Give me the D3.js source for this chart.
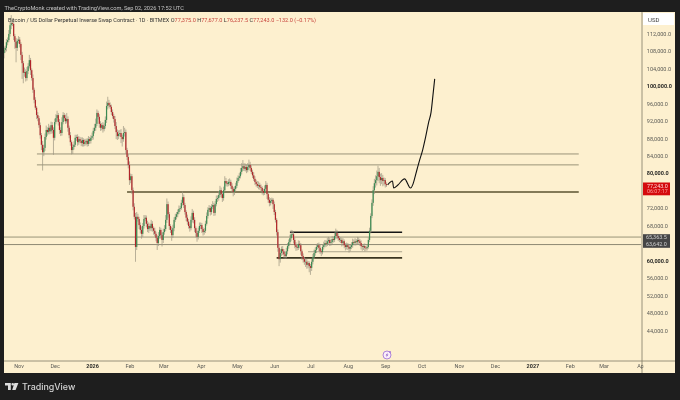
<!DOCTYPE html>
<html>
<head>
	<title>BTC perpetual 1D</title>
	<meta charset="utf-8">
	<script type="text/javascript" src="https://cdn.jsdelivr.net/npm/d3@7"></script>
	<style>
		html, body { margin: 0; padding: 0; background: #1e1e1e; overflow: hidden; }
		svg { display: block; font-family: Roboto, sans-serif; filter: blur(0.35px); }
		.axis path, .axis line { display: none; }
		.axis text { fill: #5a5a55; font-size: 5.5px; font-family: Roboto, sans-serif; }
		.axis text.major { fill: #2b2b28; font-weight: 700; }
	</style>
</head>
<body>
<script type="text/javascript">
var firstDay = "2025-10-20";
var firstOpen = 107.5;

// daily closes, thousands of USD
var closes = [
	108.2,108.7,110,110.5,111.9,113.9,114.4,114.2,111.4,110.1,
	108.7,110.3,110.6,109.6,107.1,105.2,103,103.2,101.8,103.4,
	104.5,105.9,103.6,101.8,99.1,96.8,95,93.3,92.6,91,
	88.7,86.5,84.8,85.8,88.3,89.9,89.4,90.4,89.6,91,
	89.9,88.1,91.7,92.6,93.3,91.7,89.9,89.2,91.7,93.3,
	92.6,91.9,92.4,90.4,88.7,87.1,85.3,86,86.5,88.1,
	88.3,87.1,87.8,87.4,86.9,87.6,86.7,87.1,87.4,86.7,
	87.8,87.4,88.1,88.5,89.7,90.4,91.3,93.8,92.9,91.3,
	90.4,91,90.1,90.8,92.2,95.4,96.1,95.6,95.2,94,
	93.1,92.4,90.8,89.4,88.5,89,89.2,88.3,87.8,89.2,
	89.4,85.3,83.7,81.9,78.4,79.3,76.1,72.3,70,63.1,
	70,69.5,68.1,67,66.1,67.9,69.5,69.8,68.4,67.2,
	67.9,67.4,68.4,67.4,66.8,66.1,65.2,64,65.6,67,
	65.8,64.7,66.5,67.2,69.3,72.9,70.6,67.9,67,65.8,
	67.4,69.3,70,70.6,71.1,71.8,72,73.2,74.5,72.7,
	71.1,69.8,68.9,67.9,67.4,69.3,70.9,69.3,67.4,66.3,
	65.4,66.8,67.9,68.1,67.2,66.5,66.8,68.4,70.2,71.6,
	72,71.1,72.3,72.7,70.9,72.9,74.1,74.3,75,76.1,
	75.2,74.3,76.1,78.2,77.7,77.5,78,78,77.1,76.4,
	75.7,76.4,77.1,78.2,78.9,79.3,80.3,81.2,81.6,81,
	81.4,80.7,81.4,81.9,81.2,80.3,79.5,78.7,78,77.5,
	77.1,77.3,76.8,76.6,75.9,75.5,76.4,77.3,75.2,73.9,
	73.2,73.6,73.9,72.9,71.1,69.3,66.5,62.9,60.3,61.7,
	62.6,62.1,61.4,61,62.1,63.3,64.2,65.1,66,66,
	64.7,63.5,63.1,62.9,63.8,63.5,62.1,61,60.3,59.7,
	59.7,59,59.4,58.7,58.3,59.7,60.8,61.7,62.4,63.1,
	63.5,62.9,62.1,61.9,63.1,63.5,64,63.8,64.4,64.7,
	64,64.2,64.9,64.7,65.6,66.3,65.6,65.1,64.7,64.7,
	64,64.4,63.5,63.1,63.5,63.1,62.7,63.1,63.5,64.2,
	64,64.4,64.2,64.7,64.4,64,63.3,63.1,63.3,62.9,
	62.8,63.1,64.7,66.8,70.2,73.2,76.1,77.7,78.4,79.3,
	80.3,79.1,78.4,78.9,78.2,78.4,77.5,77.243
];
// wick length above the body, thousands of USD
var upperWick = [
	.8,.5,.7,.6,.9,.8,1.8,.7,.6,.5,
	.9,.5,.8,.6,.4,.7,.5,1,.6,.9,
	.7,1.2,.5,.4,.8,.5,.6,.4,.7,.5,
	.6,.5,.9,.7,.8,1,.6,.9,.5,.8,
	.7,.6,.8,.9,1,.5,.7,.6,1.1,.7,
	.5,.8,1.4,.6,.5,.7,.4,.6,.8,.7,
	.5,.6,.7,.5,.8,.6,.4,.7,.5,.6,
	.7,.5,.6,.8,.7,.9,1.2,.8,.5,.6,
	.6,.5,.7,.6,.8,1,1.4,.7,.6,.5,
	.6,.5,.7,.9,.6,.8,.7,.9,.5,1.6,
	1,.6,.5,.7,.8,.6,.5,.6,.8,.9,
	1.1,.7,.5,.6,.8,.7,.9,.6,.5,.7,
	.8,.5,.9,.6,.4,.7,.5,.6,.9,.7,
	.5,.6,.8,.9,1.1,1.3,.6,.5,.4,.7,
	.8,.6,.7,.5,.6,.8,.5,.7,1.3,.6,
	.5,.4,.7,.6,.5,.8,.9,.5,.6,.4,
	.5,.7,.8,.6,.5,.4,.6,.7,.8,.6,
	.7,.5,.6,.9,.5,.7,.8,.6,.9,1,
	.6,.5,.8,1.1,.7,.5,.6,.8,.5,.6,
	.4,.6,.7,.8,.6,.7,.9,1.1,1.4,.7,
	.8,.6,.9,1.2,.7,.6,.5,.7,.6,.5,
	.7,.8,.5,.6,.4,.5,.8,.9,.5,.4,
	.6,.7,.5,.4,.6,.5,.4,.6,.7,.9,
	.6,.7,.5,.6,.8,.7,.6,.8,1,.9,
	.6,.5,.7,.6,.8,.7,.5,.4,.6,.5,
	.7,.6,.5,.4,.5,.6,.7,.8,.6,.7,
	.5,.6,.7,.5,.6,.8,.7,.6,.8,.7,
	.5,.6,.7,.6,.8,1,.7,.6,.5,.6,
	.5,.7,.4,.5,.6,.5,.4,.6,.7,.8,
	.6,.7,.5,.7,.6,.5,.6,.4,.5,.6,
	.4,.5,.6,.7,.6,.8,.9,1,1.1,1.3,
	1.4,.9,.8,1.1,.7,.6,.5,.4
];
// wick length below the body, thousands of USD
var lowerWick = [
	1.2,.6,.8,.7,.5,.6,.9,.5,.9,1.6,
	3.3,.7,.6,.8,1.2,3.6,2.4,.9,.8,.6,
	.7,.5,1.1,.6,.7,.8,.5,.9,.7,.6,
	.8,1.2,4.2,.9,.7,.6,.8,.5,.7,.6,
	.8,3.9,.6,.5,.7,.8,.9,.7,.6,.5,
	.7,.6,.5,.9,.7,.8,1,.9,.6,.5,
	.7,.8,.6,.5,.7,.8,.6,.5,.7,.6,
	.5,.7,.6,.5,.8,.6,.7,.5,.6,.9,
	.7,.6,.8,.5,.6,.7,.8,.6,.5,.7,
	.6,.8,.7,1.6,.9,.7,.6,1.4,1.7,.6,
	.8,.9,.7,.8,1.1,.7,.9,.8,.6,3.4,
	.7,.6,.9,.8,1.1,.7,.6,.5,.8,.7,
	.9,.6,.7,.8,.9,.6,.8,1.6,.7,.6,
	.8,1.5,.7,.6,.5,.7,.8,.9,.7,1.3,
	.6,.7,.5,.6,.7,.5,.6,.4,.6,.7,
	.6,.8,.7,.6,.8,.5,.6,.8,.9,1,
	1.1,.6,.5,.7,.9,.8,.6,.5,.4,.6,
	.5,.8,.6,.5,.7,.6,.5,.7,.6,.5,
	.8,.9,.6,.5,.7,.6,.5,.8,.7,.9,
	1,.7,.6,.5,.4,.6,.5,.6,.7,.5,
	.6,.7,.5,.6,.7,.5,.6,.5,.7,.6,
	.5,.8,.6,.7,.8,.6,.5,.6,1.1,.7,
	.8,.6,.5,1.1,.7,.6,.8,.9,1.6,.8,
	.7,.9,.8,.6,.5,.7,.6,.5,.7,.5,
	.8,.7,.9,.6,.5,.7,.8,.9,.8,.7,
	1.2,.9,.8,1.4,1.6,.7,.6,.5,.6,.7,
	.5,.8,.6,.9,.5,.6,.5,.7,.5,.6,
	.7,.6,.5,.6,.5,.6,.7,.6,.5,.7,
	.8,.6,.7,.8,.6,.7,.9,.6,.5,.6,
	.5,.6,.7,.5,.6,.7,.8,.9,.7,.8,
	.6,.5,.4,.5,.6,.5,.7,.9,1,1.2,
	1.1,1.4,1.3,.9,1.2,1,.8,.4
];

// levels drawn on the chart
var levelPrices = [84.4, 81.9, 75.7, 65.3635, 63.642, 66.45, 62.0, 60.6];
var levelFrom = [27.3, 27.3, 102, -4, -4, 237, 252, 226];
var levelTo = [476.4, 476.4, 476.4, 528, 528, 330, 330, 330];

// hand drawn projection: days after firstDay, price
var forecastDays = [318,322,323,326.5,332,337,339,340.5,342,344.5,347,349.5,352,354,355.5,357];
var forecastPrices = [77.3,78.2,76.6,77.3,78.7,76.6,77.5,78.9,80.5,83,85.3,88.3,91.7,94,97.7,101.6];

var priceTicks = [112,108,104,100,96,92,88,84,80,72,68,60,56,52,48,44];
var boldPrices = [100,80,60];
var monthDates = ["2025-11-01","2025-12-01","2026-01-01","2026-02-01","2026-03-01","2026-04-01","2026-05-01","2026-06-01","2026-07-01","2026-08-01","2026-09-01","2026-10-01","2026-11-01","2026-12-01","2027-01-01","2027-02-01","2027-03-01","2027-04-01"];
var monthLabels = ["Nov","Dec","2026","Feb","Mar","Apr","May","Jun","Jul","Aug","Sep","Oct","Nov","Dec","2027","Feb","Mar","Apr"];
var headerNames = "Bitcoin / US Dollar Perpetual Inverse Swap Contract \u00b7 1D \u00b7 BITMEX";
var ohlcLabels = ["O","H","L","C"];
var ohlcValues = ["77,375.0","77,677.0","76,237.5","77,243.0"];
var changeText = "\u2212132.0 (\u22120.17%)";
var priceTags = ["65,363.5","63,642.0"];

var width = 680;
var height = 400;
var left = 4, top_ = 12, plotRight = 642, paneRight = 675, plotBottom = 361, paneBottom = 373;
var cream = "#fdf0cf", lineGrey = "#7d7966";

var start = new Date(firstDay + "T00:00:00Z");
function dayToDate(d) { return new Date(start.getTime() + d * 864e5); }

var x = d3.scaleUtc()
	.domain([start, new Date("2027-04-01T00:00:00Z")])
	.range([left, 641]);
var y = d3.scaleLinear()
	.domain([112, 44])
	.range([33.5, 330.3]);

var candles = closes.map(function(c, i) {
	var o = i == 0 ? firstOpen : closes[i - 1];
	return {
		date: dayToDate(i),
		open: o,
		close: c,
		high: Math.max(o, c) + upperWick[i],
		low: Math.min(o, c) - lowerWick[i]
	};
});

var svg = d3.select("body").append("svg")
	.attr("width", width)
	.attr("height", height);

svg.append("rect").attr("width", width).attr("height", height).attr("fill", "#1e1e1e");
svg.append("rect")
	.attr("x", left).attr("y", top_)
	.attr("width", paneRight - left).attr("height", paneBottom - top_)
	.attr("fill", cream);

var defs = svg.append("defs");
defs.append("clipPath").attr("id", "plot").append("rect")
	.attr("x", left).attr("y", top_)
	.attr("width", plotRight - left).attr("height", plotBottom - top_);
defs.append("clipPath").attr("id", "timeclip").append("rect")
	.attr("x", left).attr("y", plotBottom)
	.attr("width", plotRight + 1.5 - left).attr("height", paneBottom - plotBottom);

var plot = svg.append("g").attr("clip-path", "url(#plot)");

// levels, thin grey ones first
var levelColor = ["#9a9479","#9a9479","#5a5330","#9a9479","#8d8873","#141414","#a39d84","#3a3520"];
var levelWidth = [1,1,1.6,1,1,1.4,.9,1.7];
plot.selectAll("line.level")
	.data(levelPrices)
	.enter()
	.append("line")
	.attr("class", "level")
	.attr("x1", function(d, i) { return x(dayToDate(levelFrom[i])); })
	.attr("x2", function(d, i) { return x(dayToDate(levelTo[i])); })
	.attr("y1", function(d) { return y(d); })
	.attr("y2", function(d) { return y(d); })
	.attr("stroke", function(d, i) { return levelColor[i]; })
	.attr("stroke-width", function(d, i) { return levelWidth[i]; });

// candles
plot.selectAll("line.wick")
	.data(candles)
	.enter()
	.append("line")
	.attr("class", "wick")
	.attr("x1", function(d) { return x(d.date); })
	.attr("x2", function(d) { return x(d.date); })
	.attr("y1", function(d) { return y(d.high); })
	.attr("y2", function(d) { return y(d.low); })
	.attr("stroke", "#9b9480")
	.attr("stroke-width", .7);
plot.selectAll("rect.body")
	.data(candles)
	.enter()
	.append("rect")
	.attr("class", "body")
	.attr("x", function(d) { return x(d.date) - .6; })
	.attr("width", 1.2)
	.attr("y", function(d) { return y(Math.max(d.open, d.close)); })
	.attr("height", function(d) { return Math.max(.6, Math.abs(y(d.open) - y(d.close))); })
	.attr("fill", function(d) { return d.close >= d.open ? "#3a8a52" : "#b02429"; });

// projection
var forecastLine = d3.line()
	.x(function(d, i) { return x(dayToDate(forecastDays[i])); })
	.y(function(d) { return y(d); })
	.curve(d3.curveMonotoneX);
plot.append("path")
	.attr("d", forecastLine(forecastPrices))
	.attr("fill", "none")
	.attr("stroke", "#111")
	.attr("stroke-width", 1.1)
	.attr("stroke-linejoin", "round");

// pane borders
function border(x1, y1, x2, y2) {
	svg.append("line").attr("x1", x1).attr("y1", y1).attr("x2", x2).attr("y2", y2)
		.attr("stroke", lineGrey).attr("stroke-width", .8);
}
border(plotRight, top_, plotRight, paneBottom);
border(left, plotBottom, paneRight, plotBottom);

// price axis
var priceAxis = d3.axisRight(y)
	.tickValues(priceTicks)
	.tickSize(0)
	.tickPadding(0)
	.tickFormat(function(d) { return d3.format(",.1f")(d * 1000); });
var priceG = svg.append("g")
	.attr("class", "axis")
	.attr("transform", "translate(646.8,0)")
	.call(priceAxis);
priceG.selectAll("text")
	.classed("major", function(d) { return boldPrices.indexOf(d) >= 0; });

// time axis
var timeAxis = d3.axisBottom(x)
	.tickValues(monthDates.map(function(d) { return new Date(d + "T00:00:00Z"); }))
	.tickSize(0)
	.tickPadding(0)
	.tickFormat(function(d, i) { return monthLabels[i]; });
var timeG = svg.append("g")
	.attr("class", "axis")
	.attr("clip-path", "url(#timeclip)");
timeG.append("g")
	.attr("transform", "translate(0,364.5)")
	.call(timeAxis)
	.selectAll("text")
	.classed("major", function(d, i) { return monthLabels[i].length == 4; });

// USD box
svg.append("rect").attr("x", 643).attr("y", 13).attr("width", 31).attr("height", 12).attr("fill", "#fff");
svg.append("text").attr("x", 648).attr("y", 21.5).attr("font-size", 6).attr("fill", "#444").text("USD");

// price tags
svg.append("rect").attr("x", 643).attr("y", 182.5).attr("width", 27).attr("height", 12.8).attr("fill", "#d40a0d");
svg.append("text").attr("x", 647).attr("y", 187.6).attr("font-size", 5.4).attr("fill", "#ffd9d9").text("77,243.0");
svg.append("text").attr("x", 647).attr("y", 193.3).attr("font-size", 5.4).attr("fill", "#ff9f9f").text("06:07:17");
svg.append("rect").attr("x", 643).attr("y", 234.2).attr("width", 27).attr("height", 13.6).attr("fill", "#454545");
svg.selectAll("text.tag")
	.data(priceTags)
	.enter()
	.append("text")
	.attr("class", "tag")
	.attr("x", 646)
	.attr("y", function(d, i) { return i == 0 ? y(65.3635) + 1.8 : y(63.642) + 1.8; })
	.attr("font-size", 5.4)
	.attr("fill", "#cfcfcf")
	.text(function(d) { return d; });

// header texts
svg.append("text").attr("x", 4.5).attr("y", 9.8).attr("font-size", 5.65).attr("fill", "#c4c4c4")
	.text("TheCryptoMonk created with TradingView.com, Sep 02, 2026 17:52 UTC");
var legend = svg.append("text").attr("x", 8).attr("y", 21.8).attr("font-size", 5.55).attr("fill", "#333");
legend.append("tspan").text(headerNames + "  ");
ohlcLabels.forEach(function(l, i) {
	legend.append("tspan").text(l);
	legend.append("tspan").attr("fill", "#c8443c").text(ohlcValues[i] + " ");
});
legend.append("tspan").attr("fill", "#c8443c").text(changeText);

// lightning marker
var mark = svg.append("g").attr("transform", "translate(387,355)");
mark.append("circle").attr("r", 4).attr("fill", "#fbeefa").attr("stroke", "#a678d6").attr("stroke-width", .9);
mark.append("path").attr("d", "M.8-2.4L-1.4.4H0L-.8 2.4L1.4-.4H0Z").attr("fill", "#8a5cc4");
mark.append("circle").attr("cx", 3).attr("cy", -3).attr("r", 1).attr("fill", "#a678d6");

// TradingView logo
svg.append("path")
	.attr("d", "M5 383H10.8V390H8V385.5H5ZM14.4 383H18.4L15.6 390H12.2ZM11.4 384.3a1.3 1.3 0 1 0 2.6 0a1.3 1.3 0 1 0-2.6 0")
	.attr("fill", "#dcdcdc");
svg.append("text").attr("x", 22).attr("y", 389.5).attr("font-size", 8.9).attr("font-weight", 500)
	.attr("font-family", "Inter, sans-serif").attr("fill", "#d4d4d4").text("TradingView");
</script>
</body>
</html>
